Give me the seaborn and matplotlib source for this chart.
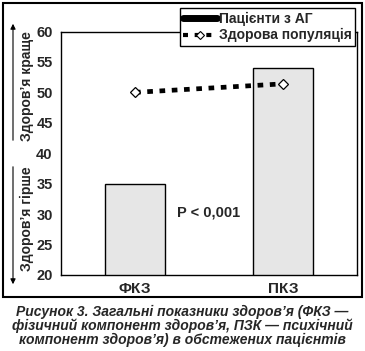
import numpy as np
import matplotlib
matplotlib.use("Agg")
import matplotlib.pyplot as plt
from matplotlib.lines import Line2D
from matplotlib.patches import Rectangle, FancyArrowPatch
import seaborn as sns

# data
categories = ["ФКЗ", "ПКЗ"]
patients = [35, 54]
healthy = [50, 51.4]
y_ticks = [20, 25, 30, 35, 40, 45, 50, 55, 60]

sns.set_style("white")
plt.rcParams['font.family'] = ['Liberation Sans', 'DejaVu Sans']

W, H = 365, 351
fig = plt.figure(figsize=(W / 100, H / 100), dpi=100)
ax = fig.add_axes([61 / W, 1 - 275 / H, (357 - 61) / W, (275 - 31.5) / H])

sns.barplot(x=categories, y=patients, width=0.4, color="#e6e6e6",
            edgecolor="black", linewidth=1.0, saturation=1, ax=ax)
sns.pointplot(x=categories, y=healthy, color="black", markers="D",
              linestyles=(0, (1.2, 1.4)), ax=ax, linewidth=3.4,
              markersize=5, markerfacecolor="white", markeredgecolor="black",
              markeredgewidth=0.9)
# open diamonds on top
for ln in ax.lines:
    ln.set_markerfacecolor("white")
    ln.set_markeredgewidth(0.9)
    ln.set_zorder(5)

ax.set_xlim(-0.5, 1.5)
ax.set_ylim(20, 60)
ax.set_yticks(y_ticks)
ax.set_xticks([0, 1])
ax.set_xticklabels(categories, fontsize=11, fontweight="bold")
ax.set_xticks([0.5], minor=True)
ax.tick_params(axis="x", which="major", length=0, pad=5)
ax.tick_params(axis="x", which="minor", length=5, direction="inout", width=1)
ax.tick_params(axis="y", length=4, direction="out", width=1, pad=2)
for lab in ax.get_yticklabels():
    lab.set_fontsize(10.5)
    lab.set_fontweight("bold")
ax.set_xlabel("")
ax.set_ylabel("")
for s in ax.spines.values():
    s.set_visible(True)
    s.set_color("black")
    s.set_linewidth(1.0)

ax.text(0.5, 30.2, "P < 0,001", ha="center", va="center", fontsize=10.5,
        fontweight="bold")

# legend
handles = [Line2D([], [], color="black", lw=5),
           Line2D([], [], color="black", lw=3, linestyle=(0, (1.2, 1.6)),
                  marker="D", markersize=4, markerfacecolor="white",
                  markeredgewidth=0.8)]
leg = fig.legend(handles, ["Пацієнти з АГ", "Здорова популяція"],
                 loc="upper right", bbox_to_anchor=(355 / W, 1 - 8 / H),
                 frameon=True, fancybox=False, fontsize=10,
                 handlelength=2.4, handletextpad=0.15, borderpad=0.25,
                 labelspacing=0.2, borderaxespad=0, framealpha=1)
for t in leg.get_texts():
    t.set_fontweight("bold")
leg.get_frame().set_edgecolor("black")
leg.get_frame().set_linewidth(1.0)

# side arrows with labels
fig.add_artist(FancyArrowPatch(
    (13 / W, 1 - 143 / H), (13 / W, 1 - 21 / H), transform=fig.transFigure,
    arrowstyle="-|>,head_length=3,head_width=1.5", color="black", lw=0.8))
fig.add_artist(FancyArrowPatch(
    (13 / W, 1 - 164 / H), (13 / W, 1 - 287 / H), transform=fig.transFigure,
    arrowstyle="-|>,head_length=3,head_width=1.5", color="black", lw=0.8))
fig.text(27 / W, 1 - 86 / H, "Здоров’я краще", rotation=90, ha="center",
         va="center", fontsize=10, fontweight="bold")
fig.text(27 / W, 1 - 219 / H, "Здоров’я гірше", rotation=90, ha="center",
         va="center", fontsize=10, fontweight="bold")

# outer frame
fig.add_artist(Rectangle((3 / W, 1 - 297 / H), (362 - 3) / W, (297 - 3) / H,
                         transform=fig.transFigure, fill=False,
                         edgecolor="black", lw=1.5))

caption = ("Рисунок 3. Загальні показники здоров’я (ФКЗ —\n"
           "фізичний компонент здоров’я, ПЗК — психічний\n"
           "компонент здоров’я) в обстежених пацієнтів")
fig.text(182 / W, 1 - 326 / H, caption, ha="center", va="center",
         fontsize=10, fontweight="bold", style="italic", linespacing=1.0)

fig.savefig("out.png", dpi=100)
